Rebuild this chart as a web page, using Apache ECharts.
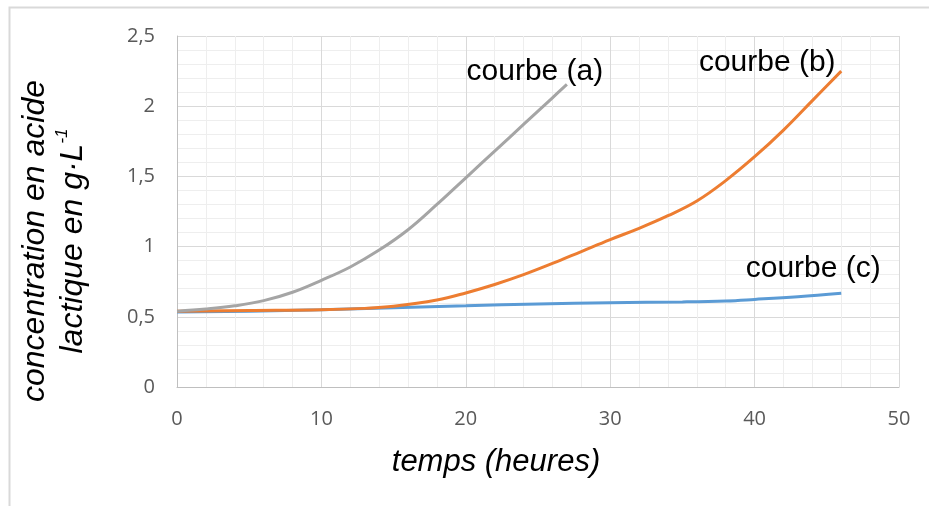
<!DOCTYPE html>
<html>
<head>
<meta charset="utf-8">
<script src="https://cdn.jsdelivr.net/npm/echarts@6/dist/echarts.min.js"></script>
<style>
  html, body { margin: 0; padding: 0; background: #fff; }
  #chart { width: 929px; height: 506px; }
</style>
</head>
<body>
<div id="chart"></div>
<script>
// temps (heures) / concentration (g/L)
var timeA = [0, 2, 4, 6, 8, 10, 12, 14, 16, 18, 20, 22, 24, 26, 27];
var concA = [0.54, 0.555, 0.578, 0.615, 0.675, 0.76, 0.855, 0.975, 1.12, 1.30, 1.49, 1.68, 1.87, 2.06, 2.155];

var timeB = [0, 5, 10, 13, 15, 18, 20, 22, 24, 26, 28, 30, 32, 34, 36, 38, 40, 42, 44, 46];
var concB = [0.54, 0.545, 0.55, 0.56, 0.575, 0.62, 0.67, 0.73, 0.80, 0.88, 0.965, 1.05, 1.13, 1.22, 1.325, 1.47, 1.64, 1.83, 2.04, 2.25];

var timeC = [0, 5, 10, 15, 20, 25, 30, 35, 38, 40, 43, 46];
var concC = [0.535, 0.54, 0.55, 0.565, 0.578, 0.592, 0.60, 0.606, 0.613, 0.624, 0.643, 0.667];

var xTicks = [0, 10, 20, 30, 40, 50];
var yTicks = [0, 0.5, 1, 1.5, 2, 2.5];

function pairs(xs, ys) {
    return xs.map(function (x, i) { return [x, ys[i]]; });
}

var labelFont = {
    fontFamily: 'Liberation Sans',
    fontSize: 30,
    color: '#000'
};

function curve(name, xs, ys, color, offset) {
    return {
        name: name,
        type: 'line',
        data: pairs(xs, ys),
        smooth: 0.4,
        showSymbol: false,
        symbol: 'none',
        lineStyle: { color: color, width: 3 },
        endLabel: {
            show: true,
            formatter: function () { return name; },
            fontFamily: labelFont.fontFamily,
            fontSize: labelFont.fontSize,
            color: labelFont.color,
            align: 'center',
            verticalAlign: 'middle',
            distance: 0,
            offset: offset
        },
        emphasis: { disabled: true }
    };
}

var chart = echarts.init(document.getElementById('chart'));

chart.setOption({
    animation: false,
    backgroundColor: '#fff',
    grid: { left: 177, right: 30, top: 36, bottom: 119, containLabel: false },
    xAxis: {
        type: 'value',
        min: xTicks[0],
        max: xTicks[xTicks.length - 1],
        interval: 10,
        axisLine: { show: true, lineStyle: { color: '#bfbfbf', width: 1 } },
        axisTick: { show: false },
        axisLabel: {
            margin: 22,
            fontFamily: 'Open Sans',
            fontSize: 20,
            color: '#595959'
        },
        splitLine: { show: true, lineStyle: { color: '#d9d9d9', width: 1 } },
        minorTick: { show: false, splitNumber: 5 },
        minorSplitLine: { show: true, lineStyle: { color: '#eeeeee', width: 1 } }
    },
    yAxis: {
        type: 'value',
        min: yTicks[0],
        max: yTicks[yTicks.length - 1],
        interval: 0.5,
        axisLine: { show: true, lineStyle: { color: '#bfbfbf', width: 1 } },
        axisTick: { show: false },
        axisLabel: {
            margin: 22,
            fontFamily: 'Open Sans',
            fontSize: 20,
            color: '#595959',
            formatter: function (v) { return String(v).replace('.', ','); }
        },
        splitLine: { show: true, lineStyle: { color: '#d9d9d9', width: 1 } },
        minorTick: { show: false, splitNumber: 5 },
        minorSplitLine: { show: true, lineStyle: { color: '#eeeeee', width: 1 } }
    },
    graphic: [
        {
            type: 'rect',
            silent: true,
            shape: { x: 9.5, y: 7.5, width: 940, height: 520 },
            style: { fill: 'none', stroke: '#d9d9d9', lineWidth: 2 }
        },
        {
            type: 'text',
            x: 496,
            y: 462,
            style: {
                text: 'temps (heures)',
                font: 'italic 31px "Liberation Sans"',
                fill: '#000',
                align: 'center',
                verticalAlign: 'middle'
            }
        },
        {
            type: 'text',
            x: 54,
            y: 241,
            rotation: Math.PI / 2,
            style: {
                text: 'concentration en acide\nlactique en g·L{sup|-1}',
                font: 'italic 32px "Liberation Sans"',
                fill: '#000',
                align: 'center',
                verticalAlign: 'middle',
                lineHeight: 38,
                rich: {
                    sup: {
                        font: 'italic 17px "Liberation Sans"',
                        fill: '#000',
                        verticalAlign: 'top',
                        lineHeight: 38,
                        padding: [0, 0, 16, 0]
                    }
                }
            }
        }
    ],
    series: [
        curve('courbe (c)', timeC, concC, '#5b9bd5', [-28, -25]),
        curve('courbe (b)', timeB, concB, '#ed7d31', [-74, -8]),
        curve('courbe (a)', timeA, concA, '#a5a5a5', [-32, -13])
    ]
});
</script>
</body>
</html>
